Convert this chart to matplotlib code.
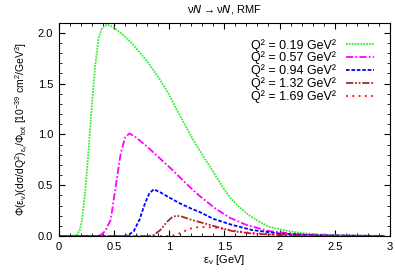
import matplotlib
matplotlib.use("Agg")
import matplotlib.pyplot as plt
from matplotlib.ticker import MultipleLocator
import numpy as np

plt.rcParams['font.family'] = ['Liberation Sans', 'DejaVu Sans']
plt.rcParams['mathtext.default'] = 'regular'

# values
e1 = [0.0, 0.12, 0.16, 0.19, 0.21, 0.24, 0.27, 0.30, 0.33, 0.36, 0.39, 0.42, 0.44, 0.50, 0.58,
      0.66, 0.73, 0.82, 0.91, 1.00, 1.06, 1.13, 1.21, 1.30, 1.40, 1.48, 1.55, 1.64, 1.73, 1.82,
      1.91, 2.05, 2.2, 2.4, 2.6, 2.8, 2.95]
q1 = [0.0, 0.0, 0.01, 0.06, 0.16, 0.45, 0.85, 1.30, 1.68, 1.95, 2.04, 2.07, 2.08, 2.05, 1.98,
      1.90, 1.81, 1.69, 1.55, 1.39, 1.26, 1.12, 0.96, 0.80, 0.63, 0.49, 0.38, 0.28, 0.20, 0.14,
      0.09, 0.055, 0.03, 0.013, 0.006, 0.003, 0.002]

e2 = [0.0, 0.33, 0.38, 0.42, 0.47, 0.51, 0.56, 0.60, 0.64, 0.70, 0.80, 0.91, 1.03, 1.15,
      1.27, 1.42, 1.55, 1.70, 1.90, 2.2, 2.5, 2.95]
q2 = [0.0, 0.0, 0.01, 0.05, 0.16, 0.45, 0.81, 0.97, 1.01, 0.97, 0.88, 0.77, 0.65, 0.52,
      0.40, 0.27, 0.18, 0.11, 0.05, 0.015, 0.005, 0.001]

e3 = [0.0, 0.58, 0.63, 0.68, 0.73, 0.78, 0.82, 0.86, 0.92, 1.00, 1.10, 1.20, 1.27, 1.40,
      1.57, 1.75, 2.0, 2.3, 2.95]
q3 = [0.0, 0.0, 0.01, 0.05, 0.16, 0.32, 0.42, 0.46, 0.43, 0.38, 0.32, 0.27, 0.24, 0.17,
      0.11, 0.06, 0.025, 0.008, 0.001]

e4 = [0.0, 0.80, 0.86, 0.92, 0.98, 1.03, 1.07, 1.12, 1.20, 1.27, 1.40, 1.57, 1.75, 2.0,
      2.3, 2.95]
q4 = [0.0, 0.0, 0.01, 0.06, 0.14, 0.19, 0.20, 0.19, 0.16, 0.14, 0.10, 0.05, 0.025, 0.01,
      0.004, 0.001]

e5 = [0.0, 1.00, 1.06, 1.12, 1.18, 1.24, 1.30, 1.40, 1.50, 1.60, 1.75, 1.95, 2.2, 2.5, 2.95]
q5 = [0.0, 0.0, 0.01, 0.04, 0.07, 0.085, 0.09, 0.085, 0.07, 0.05, 0.03, 0.015, 0.006, 0.002, 0.0]

labels = ['Q² = 0.19 GeV²', 'Q² = 0.57 GeV²', 'Q² = 0.94 GeV²',
          'Q² = 1.32 GeV²', 'Q² = 1.69 GeV²']

fig = plt.figure(figsize=(3.95, 2.72), dpi=100)
ax = fig.add_axes([0.149, 0.132, 0.838, 0.785])

ax.plot(e1, q1, color='#33ee33', lw=1.3, ls=(0, (1, 0.6)), label=labels[0])
ax.plot(e2, q2, color='#ff00ff', lw=1.3, ls=(0, (4, 1.2, 1, 1.2)), label=labels[1])
ax.plot(e3, q3, color='#0000ff', lw=1.3, ls=(0, (2, 1)), label=labels[2])
ax.plot(e4, q4, color='#a52a2a', lw=1.3, ls=(0, (4, 1, 1, 1, 1, 1)), label=labels[3])
ax.plot(e5, q5, color='#ff0000', lw=1.3, ls=(0, (1, 2.5)), label=labels[4])

ax.set_xlim(0, 3)
ax.set_ylim(0, 2.1)
ax.xaxis.set_major_locator(MultipleLocator(0.5))
ax.xaxis.set_minor_locator(MultipleLocator(0.1))
ax.yaxis.set_major_locator(MultipleLocator(0.5))
ax.yaxis.set_minor_locator(MultipleLocator(0.1))
ax.set_xticklabels(['', '0', '0.5', '1', '1.5', '2', '2.5', '3'])
ax.tick_params(which='both', direction='in', top=True, right=True, labelsize=8, pad=4)
ax.tick_params(which='major', length=4)
ax.tick_params(which='minor', length=2)

ax.set_title(r'$\nu \mathit{N} \rightarrow \nu \mathit{N}$, RMF', fontsize=8, pad=7)
ax.set_xlabel(r'$\epsilon_\nu$ [GeV]', fontsize=8, labelpad=1)
ax.set_ylabel(r'$\Phi(\epsilon_\nu)(d\sigma/dQ^2)_{\epsilon_\nu}/\Phi_{tot}$ [10$^{-39}$ cm$^2$/GeV$^3$]',
              fontsize=7.5, labelpad=6)

ax.legend(loc='upper right', markerfirst=False, frameon=False, fontsize=9,
          handlelength=2.2, labelspacing=0.0, borderaxespad=0.9, handletextpad=0.8)

fig.savefig("out.png", dpi=100)
